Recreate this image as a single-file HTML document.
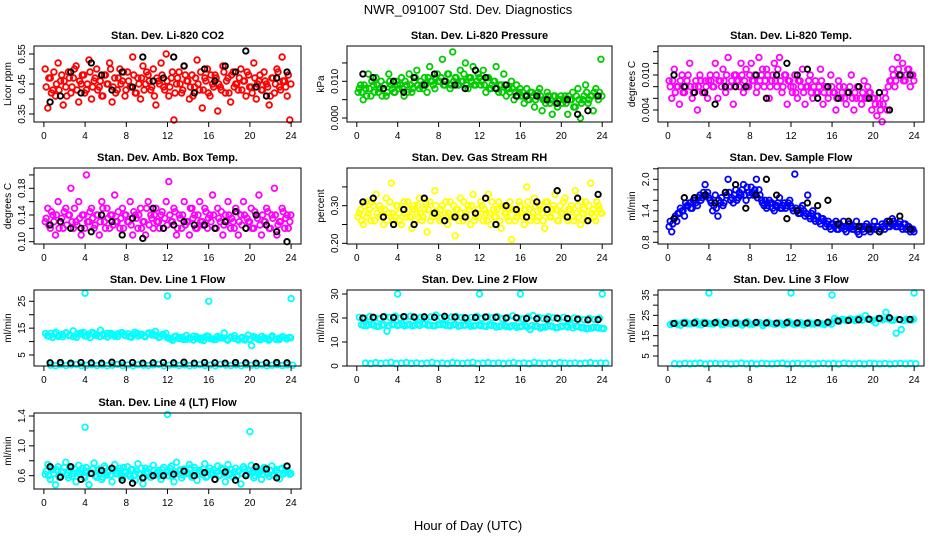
<!DOCTYPE html>
<html><head><meta charset="utf-8"><style>
html,body{margin:0;padding:0;background:#fff;}
svg{display:block;font-family:"Liberation Sans",Arial,sans-serif;}
</style></head><body>
<svg id="chart" width="936" height="540" viewBox="0 0 936 540">
<text x="468" y="14" text-anchor="middle" font-size="13">NWR_091007 Std. Dev. Diagnostics</text>
<text x="468" y="530" text-anchor="middle" font-size="13">Hour of Day (UTC)</text>
</svg>
<script>
const hourTicks=[0,4,8,12,16,20,24];
const co2Vals=[0.50,0.37,0.47,0.43,0.41,0.52,0.46,0.38,0.44,0.49,0.42,0.47,0.51,0.39,0.45,0.48,0.43,0.53,0.40,0.46,0.50,0.44,0.41,0.48,0.45,0.52,0.39,0.47,0.43,0.50,0.46,0.41,0.49,0.44,0.54,0.42,0.47,0.40,0.51,0.45,0.48,0.43,0.50,0.38,0.46,0.52,0.44,0.55,0.41,0.47,0.33,0.45,0.49,0.42,0.51,0.46,0.40,0.48,0.44,0.53,0.43,0.37,0.47,0.50,0.41,0.45,0.48,0.36,0.44,0.51,0.42,0.47,0.39,0.49,0.45,0.43,0.50,0.46,0.41,0.48,0.44,0.52,0.40,0.46,0.43,0.49,0.45,0.38,0.47,0.42,0.50,0.44,0.54,0.46,0.41,0.33];
const co2Vals2=[0.44,0.47,0.42,0.49,0.45,0.43,0.48,0.46,0.41,0.47,0.44,0.50,0.43,0.46,0.48,0.42,0.45,0.49,0.44,0.47,0.43,0.46,0.41,0.48,0.45,0.50,0.44,0.42,0.47,0.45,0.49,0.43,0.46,0.44,0.48,0.42,0.45,0.47,0.43,0.49,0.46,0.44,0.41,0.47,0.45,0.48,0.43,0.46,0.44,0.49,0.42,0.47,0.45,0.43,0.48,0.46,0.44,0.41,0.47,0.45,0.49,0.43,0.46,0.42,0.48,0.44,0.47,0.45,0.43,0.49,0.46,0.42,0.48,0.44,0.45,0.47,0.43,0.46,0.49,0.44,0.42,0.47,0.45,0.48,0.43,0.46,0.44,0.41,0.47,0.45,0.49,0.43,0.46,0.44,0.48,0.45];
const co2Black=[0.39,0.41,0.49,0.42,0.52,0.48,0.43,0.49,0.44,0.54,0.46,0.47,0.54,0.51,0.42,0.50,0.46,0.51,0.49,0.56,0.44,0.41,0.47,0.49];
const presVals=[0.007,0.009,0.005,0.008,0.012,0.006,0.009,0.011,0.007,0.010,0.008,0.006,0.012,0.009,0.007,0.010,0.008,0.011,0.006,0.009,0.012,0.007,0.010,0.013,0.008,0.009,0.011,0.007,0.014,0.010,0.008,0.012,0.010,0.016,0.009,0.012,0.008,0.018,0.011,0.009,0.013,0.010,0.015,0.008,0.011,0.014,0.009,0.012,0.009,0.013,0.007,0.011,0.008,0.010,0.014,0.007,0.009,0.012,0.006,0.008,0.010,0.005,0.009,0.007,0.006,0.004,0.008,0.005,0.007,0.003,0.006,0.008,0.002,0.005,0.007,0.004,0.001,0.006,0.003,0.005,0.004,0.006,0.001,0.005,0.007,0.003,0.008,0.000,0.005,0.009,0.004,0.006,0.002,0.008,0.005,0.016];
const presVals2=[0.008,0.007,0.009,0.006,0.008,0.010,0.007,0.009,0.008,0.006,0.009,0.007,0.010,0.008,0.007,0.009,0.009,0.008,0.010,0.007,0.009,0.008,0.011,0.009,0.010,0.008,0.009,0.011,0.010,0.009,0.011,0.010,0.011,0.009,0.010,0.012,0.009,0.010,0.011,0.009,0.010,0.012,0.009,0.011,0.010,0.009,0.010,0.011,0.010,0.009,0.011,0.008,0.009,0.010,0.008,0.009,0.007,0.009,0.008,0.007,0.008,0.007,0.006,0.008,0.007,0.006,0.005,0.007,0.006,0.005,0.007,0.006,0.005,0.004,0.006,0.005,0.006,0.004,0.005,0.006,0.005,0.004,0.006,0.005,0.003,0.006,0.005,0.004,0.006,0.007,0.005,0.006,0.007,0.006,0.007,0.006];
const presBlack=[0.012,0.011,0.008,0.010,0.007,0.011,0.009,0.012,0.010,0.009,0.008,0.013,0.011,0.008,0.009,0.006,0.006,0.006,0.005,0.004,0.005,0.001,0.002,0.006];
const tempVals=[0.009,0.006,0.011,0.008,0.005,0.010,0.007,0.009,0.012,0.006,0.008,0.004,0.010,0.007,0.009,0.006,0.010,0.008,0.012,0.006,0.009,0.011,0.007,0.013,0.008,0.005,0.010,0.009,0.012,0.007,0.011,0.008,0.012,0.009,0.007,0.013,0.010,0.008,0.011,0.006,0.009,0.012,0.008,0.013,0.007,0.010,0.005,0.009,0.007,0.010,0.006,0.009,0.011,0.005,0.008,0.010,0.006,0.009,0.007,0.011,0.005,0.008,0.006,0.010,0.007,0.004,0.009,0.006,0.008,0.005,0.007,0.010,0.004,0.006,0.008,0.005,0.009,0.006,0.007,0.004,0.006,0.003,0.005,0.002,0.007,0.004,0.009,0.011,0.008,0.013,0.010,0.012,0.009,0.011,0.008,0.010];
const tempVals2=[0.008,0.009,0.007,0.008,0.009,0.007,0.008,0.010,0.008,0.007,0.009,0.008,0.009,0.007,0.008,0.009,0.009,0.008,0.010,0.009,0.008,0.009,0.010,0.008,0.009,0.010,0.009,0.008,0.010,0.009,0.008,0.010,0.009,0.010,0.008,0.009,0.011,0.009,0.010,0.008,0.010,0.009,0.011,0.009,0.008,0.010,0.009,0.008,0.008,0.007,0.009,0.008,0.007,0.008,0.009,0.007,0.008,0.007,0.008,0.009,0.007,0.008,0.007,0.008,0.007,0.006,0.008,0.007,0.006,0.007,0.008,0.006,0.007,0.008,0.006,0.007,0.006,0.008,0.007,0.006,0.005,0.006,0.004,0.005,0.006,0.008,0.009,0.010,0.009,0.011,0.010,0.009,0.010,0.011,0.010,0.009];
const tempBlack=[0.010,0.008,0.007,0.007,0.005,0.008,0.008,0.008,0.010,0.006,0.010,0.012,0.010,0.011,0.006,0.008,0.006,0.007,0.008,0.006,0.007,0.004,0.010,0.010];
const ambVals=[0.13,0.15,0.12,0.14,0.11,0.16,0.13,0.12,0.15,0.14,0.18,0.12,0.13,0.16,0.11,0.14,0.20,0.13,0.15,0.12,0.14,0.11,0.16,0.13,0.15,0.12,0.14,0.17,0.13,0.12,0.15,0.14,0.13,0.16,0.11,0.14,0.12,0.15,0.13,0.11,0.16,0.14,0.12,0.15,0.13,0.14,0.12,0.16,0.19,0.13,0.15,0.11,0.14,0.12,0.16,0.13,0.11,0.15,0.14,0.12,0.16,0.13,0.15,0.12,0.14,0.17,0.12,0.15,0.13,0.11,0.14,0.16,0.12,0.13,0.15,0.11,0.14,0.16,0.12,0.13,0.15,0.12,0.14,0.17,0.11,0.13,0.15,0.12,0.14,0.18,0.11,0.13,0.15,0.12,0.14,0.13];
const ambVals2=[0.135,0.125,0.145,0.13,0.14,0.12,0.135,0.145,0.125,0.14,0.13,0.15,0.125,0.135,0.14,0.12,0.13,0.145,0.135,0.125,0.14,0.13,0.15,0.12,0.135,0.14,0.125,0.13,0.145,0.135,0.12,0.14,0.13,0.125,0.145,0.135,0.14,0.12,0.13,0.15,0.125,0.135,0.14,0.13,0.12,0.145,0.135,0.125,0.14,0.13,0.145,0.12,0.135,0.14,0.125,0.13,0.15,0.135,0.12,0.14,0.13,0.125,0.145,0.135,0.13,0.14,0.12,0.135,0.145,0.125,0.13,0.14,0.135,0.12,0.145,0.13,0.125,0.14,0.135,0.13,0.12,0.145,0.135,0.125,0.14,0.13,0.145,0.12,0.135,0.14,0.125,0.13,0.145,0.135,0.12,0.14];
const ambBlack=[0.125,0.13,0.12,0.12,0.115,0.14,0.13,0.11,0.135,0.105,0.15,0.12,0.125,0.13,0.125,0.125,0.12,0.13,0.145,0.12,0.14,0.125,0.115,0.10];
const rhVals=[0.27,0.29,0.25,0.31,0.28,0.26,0.30,0.33,0.27,0.29,0.25,0.32,0.28,0.36,0.26,0.30,0.28,0.25,0.31,0.27,0.29,0.24,0.30,0.28,0.32,0.26,0.29,0.23,0.31,0.27,0.34,0.28,0.26,0.30,0.28,0.25,0.31,0.27,0.22,0.29,0.32,0.26,0.28,0.30,0.25,0.33,0.27,0.29,0.31,0.26,0.28,0.33,0.25,0.29,0.27,0.31,0.24,0.30,0.28,0.26,0.21,0.29,0.27,0.31,0.28,0.25,0.35,0.29,0.27,0.32,0.26,0.30,0.28,0.24,0.31,0.27,0.29,0.33,0.26,0.30,0.28,0.32,0.26,0.29,0.27,0.34,0.30,0.25,0.28,0.31,0.27,0.36,0.29,0.26,0.30,0.28];
const rhVals2=[0.28,0.26,0.30,0.27,0.29,0.31,0.26,0.28,0.30,0.27,0.29,0.26,0.31,0.28,0.27,0.30,0.26,0.29,0.28,0.31,0.27,0.29,0.26,0.30,0.28,0.27,0.31,0.29,0.26,0.28,0.30,0.27,0.29,0.26,0.31,0.28,0.27,0.30,0.29,0.26,0.28,0.31,0.27,0.29,0.30,0.26,0.28,0.27,0.30,0.29,0.26,0.28,0.31,0.27,0.29,0.26,0.30,0.28,0.27,0.31,0.29,0.26,0.28,0.30,0.27,0.29,0.31,0.26,0.28,0.30,0.27,0.29,0.26,0.31,0.28,0.27,0.30,0.29,0.26,0.28,0.31,0.27,0.29,0.30,0.26,0.28,0.27,0.31,0.29,0.26,0.30,0.28,0.27,0.31,0.29,0.28];
const rhBlack=[0.31,0.32,0.27,0.25,0.29,0.25,0.32,0.28,0.26,0.27,0.27,0.28,0.32,0.25,0.30,0.29,0.27,0.31,0.29,0.34,0.27,0.32,0.26,0.33];
const flowVals=[1.1,1.0,1.25,1.2,1.35,1.4,1.3,1.5,1.55,1.45,1.6,1.5,1.7,1.65,1.9,1.75,1.6,1.4,1.7,1.3,1.55,1.5,1.75,2.0,1.6,1.55,1.8,1.65,1.7,1.9,1.6,1.75,1.85,1.7,2.0,1.8,1.6,1.5,1.45,1.6,1.55,1.4,1.5,1.65,1.45,1.55,1.5,1.6,1.45,2.1,1.4,1.35,1.5,1.3,1.7,1.25,1.4,1.2,1.3,1.15,1.25,1.1,1.2,1.05,1.15,1.2,1.05,1.1,1.2,1.0,1.15,1.1,1.05,1.2,0.95,1.1,1.0,1.15,1.1,1.05,1.2,1.1,1.0,1.15,1.05,1.2,1.1,1.25,1.15,1.1,1.2,1.05,1.15,1.1,1.0,1.05];
const flowVals2=[1.2,1.15,1.3,1.35,1.45,1.4,1.55,1.5,1.45,1.6,1.55,1.65,1.6,1.75,1.7,1.65,1.55,1.5,1.45,1.6,1.65,1.55,1.7,1.75,1.65,1.7,1.6,1.75,1.8,1.7,1.85,1.7,1.75,1.8,1.65,1.7,1.55,1.6,1.5,1.55,1.45,1.5,1.55,1.45,1.5,1.45,1.55,1.5,1.4,1.45,1.35,1.45,1.4,1.35,1.3,1.35,1.25,1.3,1.2,1.25,1.2,1.15,1.1,1.15,1.1,1.05,1.15,1.1,1.05,1.1,1.15,1.05,1.1,1.0,1.1,1.05,1.1,1.05,1.0,1.1,1.05,1.1,1.05,1.1,1.15,1.1,1.15,1.2,1.1,1.15,1.1,1.15,1.05,1.1,1.05,1.0];
const flowBlack=[1.25,1.65,1.65,1.7,1.55,1.75,1.9,1.45,1.7,2.0,1.7,1.25,1.4,1.55,1.5,1.6,1.15,1.2,1.1,1.05,1.0,1.2,1.3,1.05];
const line1Band=[13,12,11.5,13.5,12.5,11.8,13.2,12.2,14,11.6,12.8,13.4,12,11.5,13,12.6,14.2,12.3,11.7,13.1,12.5,11.9,13.3,12.4,12.9,11.6,13.5,12.1,12.7,11.8,13.2,12.4,13.8,11.5,12.6,13.1,11.2,10.5,12,11.4,10.8,12.3,11,10.6,11.8,11.3,10.4,12.1,11.1,10.7,11.9,11.4,13.2,10.5,11.6,12.2,10.9,11.3,10.6,12.4,8.5,11.5,10.8,11.9,11.2,10.5,12.1,11,10.7,11.8,11.3,11.6];
const line1Band2=[12.2,13.1,12.8,11.9,12.6,13.3,12.4,11.8,12.9,13.2,12.1,12.7,13.4,12.3,11.9,12.8,13.1,12.5,12.0,12.9,13.3,12.2,11.8,12.7,13.0,12.4,12.1,12.9,13.2,12.3,11.7,12.6,11.5,10.9,11.8,11.2,11.6,10.8,11.4,12.0,11.1,10.7,11.5,11.9,11.0,10.8,11.6,11.3,10.9,11.7,11.2,10.6,11.5,11.1,10.8,11.9,11.3,10.7,11.4,11.0,11.6,10.9,11.3,11.7,11.0,11.4];
const line1Low=[1.2,1.0,1.4,1.1,1.3,1.5,1.0,1.2,1.4,1.1,1.3,1.0,1.2,1.5,1.1,1.3,1.0,1.4,1.2,1.1,1.3,1.5,1.0,1.2,1.4,1.1,1.3,1.0,1.2,1.4,1.1,1.3,1.0,1.5,1.2,1.1,1.3,1.0,1.4,1.2,1.1,1.3,1.0,1.2,1.4,1.1,1.3,1.2];
const line1Black=[2.1,2.2,2.0,2.2,2.1,2.0,2.3,2.1,2.2,2.0,2.1,2.2,2.1,2.3,2.0,2.2,2.1,2.0,2.2,2.1,2.0,2.1,2.2,2.1];
const line1SpikeHours=[4,12,16,24];
const line1SpikeVals=[28,27,25,26];
const line2BandA=[20.3,19.8,20.6,20.1,19.7,20.5,20.2,20.8,19.9,20.4,20.7,20.0,20.3,19.6,20.5,21.2,20.1,19.8,20.4,20.6,20.2,19.9,20.3,20.7,19.8,20.5,20.1,20.6,19.7,20.3,20.9,20.0,19.6,20.4,21.0,20.2,19.8,20.5,20.1,19.7,20.3,19.5,20.0,19.6,19.3,19.8,19.4,19.9];
const line2BandB=[17.2,16.8,17.4,16.5,17.0,14.5,17.3,16.9,17.5,17.1,16.7,17.4,17.6,17.0,16.8,17.3,17.5,16.9,17.2,16.6,17.0,17.4,16.8,17.1,16.7,17.2,16.9,16.5,17.0,16.3,16.8,16.4,16.9,15.2,16.6,15.8,16.2,16.7,15.9,16.4,16.8,17.1,16.5,15.9,15.5,15.8,16.1,15.7];
const line2BandB2=[16.9,17.3,17.0,16.6,17.2,16.8,17.4,17.1,16.7,17.3,17.0,16.9,17.5,17.1,16.8,17.2,17.0,16.7,17.3,16.9,17.1,16.6,17.0,16.8,16.5,16.9,16.2,16.7,16.4,16.8,16.1,16.6,16.3,16.9,16.5,16.2,16.8,16.4,16.0,16.6,16.2,15.9,16.4,16.0,15.7,16.1,15.8,15.6];
const line2Low=[1.2,1.0,1.4,1.1,1.3,1.5,1.0,1.2,1.4,1.1,1.3,1.0,1.2,1.5,1.1,1.3,1.0,1.4,1.2,1.1,1.3,1.5,1.0,1.2,1.4,1.1,1.3,1.0,1.2,1.4,1.1,1.3,1.0,1.5,1.2,1.1,1.3,1.0,1.4,1.2,1.1,1.3,1.0,1.2,1.4,1.1,1.3,1.2];
const line2Black=[20,20.3,20.5,20.2,20.6,20.4,20.5,20.3,20.7,20.4,20.1,20.2,20.4,20.3,20.0,20.1,19.8,19.7,19.6,19.9,19.8,19.5,19.2,19.3];
const line2SpikeHours=[4,12,16,24];
const line2SpikeVals=[30,30,30,30];
const line3Band=[20.5,21.2,20.1,21.6,20.8,21.9,20.3,21.4,20.9,21.7,20.4,21.1,20.7,21.5,20.2,21.8,20.6,21.3,20.0,21.6,20.8,21.2,20.4,21.9,20.6,21.0,20.3,21.5,20.7,21.1,20.5,21.4,23.5,22.1,22.8,23.2,22.4,23.6,24.8,22.9,21.3,23.4,26.5,22.7,16.2,18.0,23.1,22.6];
const line3Band2=[21.0,20.6,21.4,20.9,21.2,20.7,21.5,21.0,20.8,21.3,20.6,21.1,21.4,20.9,21.2,20.7,21.0,21.4,20.8,21.1,20.6,21.3,20.9,21.2,20.7,21.4,21.0,20.8,21.3,20.9,21.1,20.7,22.6,23.0,22.4,22.9,23.3,22.7,23.1,22.5,23.4,22.8,23.2,22.6,23.0,22.4,22.8,23.1];
const line3Low=[1.2,1.0,1.4,1.1,1.3,1.5,1.0,1.2,1.4,1.1,1.3,1.0,1.2,1.5,1.1,1.3,1.0,1.4,1.2,1.1,1.3,1.5,1.0,1.2,1.4,1.1,1.3,1.0,1.2,1.4,1.1,1.3,1.0,1.5,1.2,1.1,1.3,1.0,1.4,1.2,1.1,1.3,1.0,1.2,1.4,1.1,1.3,1.2];
const line3Black=[21,21.2,21.3,21.1,21.4,21.5,21.2,21.3,21.5,21.3,21.2,21.4,21.3,21.2,21.4,21.6,22.2,22.5,22.8,23.1,23.5,23.8,22.9,23.0];
const line3SpikeHours=[4,12,16,24];
const line3SpikeVals=[36,36,35,36];
const line4Vals=[0.62,0.75,0.55,0.68,0.48,0.72,0.60,0.65,0.78,0.57,0.70,0.63,0.52,0.74,0.66,0.59,0.71,0.48,0.64,0.77,0.58,0.69,0.55,0.73,0.61,0.67,0.52,0.75,0.63,0.70,0.57,0.66,0.72,0.59,0.68,0.54,0.76,0.62,0.49,0.70,0.65,0.58,0.74,0.61,0.67,0.55,0.71,0.64,0.60,0.73,0.52,0.78,0.66,0.57,0.69,0.63,0.75,0.58,0.71,0.54,0.67,0.62,0.76,0.59,0.70,0.64,0.55,0.73,0.61,0.68,0.52,0.75,0.63,0.58,0.70,0.66,0.49,0.72,0.60,0.67,0.74,0.57,0.69,0.62,0.55,0.71,0.65,0.59,0.73,0.61,0.68,0.56,0.70,0.64,0.72,0.62];
const line4Vals2=[0.66,0.60,0.70,0.63,0.68,0.58,0.65,0.71,0.61,0.67,0.59,0.69,0.64,0.62,0.70,0.57,0.66,0.63,0.69,0.60,0.67,0.64,0.58,0.70,0.65,0.61,0.68,0.63,0.66,0.59,0.71,0.64,0.62,0.68,0.60,0.66,0.63,0.70,0.58,0.65,0.69,0.61,0.67,0.64,0.60,0.68,0.62,0.66,0.70,0.59,0.65,0.63,0.68,0.61,0.66,0.64,0.70,0.60,0.67,0.63,0.65,0.69,0.58,0.66,0.62,0.68,0.64,0.60,0.70,0.63,0.66,0.61,0.68,0.65,0.59,0.67,0.63,0.69,0.62,0.66,0.64,0.60,0.68,0.65,0.62,0.70,0.63,0.67,0.61,0.66,0.64,0.69,0.62,0.67,0.65,0.63];
const line4Black=[0.72,0.58,0.72,0.55,0.63,0.67,0.70,0.54,0.50,0.57,0.60,0.60,0.62,0.66,0.60,0.64,0.55,0.65,0.54,0.60,0.72,0.69,0.57,0.73];
const line4SpikeHours=[4,12,20];
const line4SpikeVals=[1.25,1.42,1.19];

const NS='http://www.w3.org/2000/svg';
const svg=document.getElementById('chart');
const colL=[34,347,658], colR=[301,612,924], rowT=[46,168,290,413], BH=76;
function mk(tag,attrs,parent){const e=document.createElementNS(NS,tag);for(const k in attrs)e.setAttribute(k,attrs[k]);(parent||svg).appendChild(e);return e;}

const panels=[
 {c:0,r:0,name:'co2',title:'Stan. Dev. Li-820 CO2',ylab:'Licor ppm',ref:[0.35,68,0.55,8],ticks:[0.35,0.40,0.45,0.50,0.55],labels:['0.35','','0.45','','0.55'],color:'#ff0000',series:[co2Vals,co2Vals2],black:co2Black},
 {c:1,r:0,name:'pressure',title:'Stan. Dev. Li-820 Pressure',ylab:'kPa',ref:[0,72,0.01,35.3],ticks:[0,0.005,0.01,0.015],labels:['0.000','','0.010',''],color:'#00cc00',series:[presVals,presVals2],black:presBlack},
 {c:2,r:0,name:'temp',title:'Stan. Dev. Li-820 Temp.',ylab:'degrees C',ref:[0.010,29,0.004,64],ticks:[0.004,0.006,0.008,0.010,0.012,0.014],labels:['0.004','','','0.010','',''],color:'#ff00ff',series:[tempVals,tempVals2],black:tempBlack},
 {c:0,r:1,name:'amb-box-temp',title:'Stan. Dev. Amb. Box Temp.',ylab:'degrees C',ref:[0.10,73.7,0.18,20.3],ticks:[0.10,0.12,0.14,0.16,0.18,0.20],labels:['0.10','','0.14','','0.18',''],color:'#ff00ff',series:[ambVals,ambVals2],black:ambBlack},
 {c:1,r:1,name:'gas-rh',title:'Stan. Dev. Gas Stream RH',ylab:'percent',ref:[0.20,75.3,0.30,37.7],ticks:[0.20,0.25,0.30,0.35],labels:['0.20','','0.30',''],color:'#ffff00',series:[rhVals,rhVals2],black:rhBlack},
 {c:2,r:1,name:'sample-flow',title:'Stan. Dev. Sample Flow',ylab:'ml/min',ref:[0.8,74.3,2.0,11.3],ticks:[0.8,1.0,1.2,1.4,1.6,1.8,2.0,2.2],labels:['0.8','','','1.4','','','2.0',''],color:'#0000ff',series:[flowVals,flowVals2],black:flowBlack},
 {c:0,r:2,name:'line1-flow',title:'Stan. Dev. Line 1 Flow',ylab:'ml/min',ref:[25,11.3,5,65],ticks:[5,10,15,20,25],labels:['5','','15','','25'],color:'#00ffff',series:[line1Band,line1Band2,line1Low],black:line1Black,sh:line1SpikeHours,sv:line1SpikeVals},
 {c:1,r:2,name:'line2-flow',title:'Stan. Dev. Line 2 Flow',ylab:'ml/min',ref:[0,76,30,4],ticks:[0,10,20,30],labels:['0','10','20','30'],color:'#00ffff',series:[line2BandA,line2BandB,line2BandB2,line2Low],black:line2Black,sh:line2SpikeHours,sv:line2SpikeVals},
 {c:2,r:2,name:'line3-flow',title:'Stan. Dev. Line 3 Flow',ylab:'ml/min',ref:[35,5,5,66],ticks:[5,10,15,20,25,30,35],labels:['5','','15','','25','','35'],color:'#00ffff',series:[line3Band,line3Band2,line3Low],black:line3Black,sh:line3SpikeHours,sv:line3SpikeVals},
 {c:0,r:3,name:'line4-flow',title:'Stan. Dev. Line 4 (LT) Flow',ylab:'ml/min',ref:[1.4,3,0.6,62.7],ticks:[0.6,0.8,1.0,1.2,1.4],labels:['0.6','','1.0','','1.4'],color:'#00ffff',series:[line4Vals,line4Vals2],black:line4Black,sh:line4SpikeHours,sv:line4SpikeVals}
];

panels.forEach(p=>{
 const L=colL[p.c],R=colR[p.c],T=rowT[p.r],B=T+BH;
 const pxh=(R-L)/25.92, x0=L+0.96*pxh;
 const xs=h=>x0+h*pxh;
 const ys=v=>T+p.ref[1]+(v-p.ref[0])*(p.ref[3]-p.ref[1])/(p.ref[2]-p.ref[0]);
 const g=mk('g',{});
 
 
 const t=mk('text',{x:(L+R)/2,y:T-7,'text-anchor':'middle','font-size':11,'font-weight':'bold'},g);
 t.textContent=p.title;
 
 
 const yl=mk('text',{x:0,y:0,'text-anchor':'middle','font-size':10,transform:`translate(${L-23},${(T+B)/2}) rotate(-90)`},g);
 yl.textContent=p.ylab;
 
 
 const pts=mk('g',{fill:'none',stroke:p.color,'stroke-width':1.8},g);
 
 
 p.series.forEach((arr,j)=>{arr.forEach((v,i)=>{
   const c=mk('circle',{cx:xs((i+0.5+j*0.4)*24/arr.length).toFixed(1),cy:ys(v).toFixed(1),r:2.8},pts);
   
   
 });});
 if(p.sh){p.sh.forEach((h,i)=>{
   const c=mk('circle',{cx:xs(h).toFixed(1),cy:ys(p.sv[i]).toFixed(1),r:2.8},pts);
   
   
 });}
 const bk=mk('g',{fill:'none',stroke:'#000','stroke-width':1.9},g);
 
 
 p.black.forEach((v,i)=>{
   const c=mk('circle',{cx:xs((i+0.6)*24/p.black.length).toFixed(1),cy:ys(v).toFixed(1),r:2.7},bk);
   
   
 });
 const box=mk('rect',{x:L,y:T,width:R-L,height:BH,fill:'none',stroke:'#000','stroke-width':1},g);
 
 
 const ax=mk('g',{},g);
 
 
 hourTicks.forEach(h=>{
   mk('line',{x1:xs(h),x2:xs(h),y1:B,y2:B+5,stroke:'#000'},ax);
   const tl=mk('text',{x:xs(h),y:B+17,'text-anchor':'middle','font-size':10},ax);
   tl.textContent=h;
 });
 const ay=mk('g',{},g);
 
 
 p.ticks.forEach((v,i)=>{
   const y=ys(v);
   mk('line',{x1:L-5,x2:L,y1:y,y2:y,stroke:'#000'},ay);
   if(p.labels[i]){
     const tl=mk('text',{x:0,y:0,'text-anchor':'middle','font-size':10,transform:`translate(${L-9},${y}) rotate(-90)`},ay);
     tl.textContent=p.labels[i];
   }
 });
});
</script>
</body></html>
